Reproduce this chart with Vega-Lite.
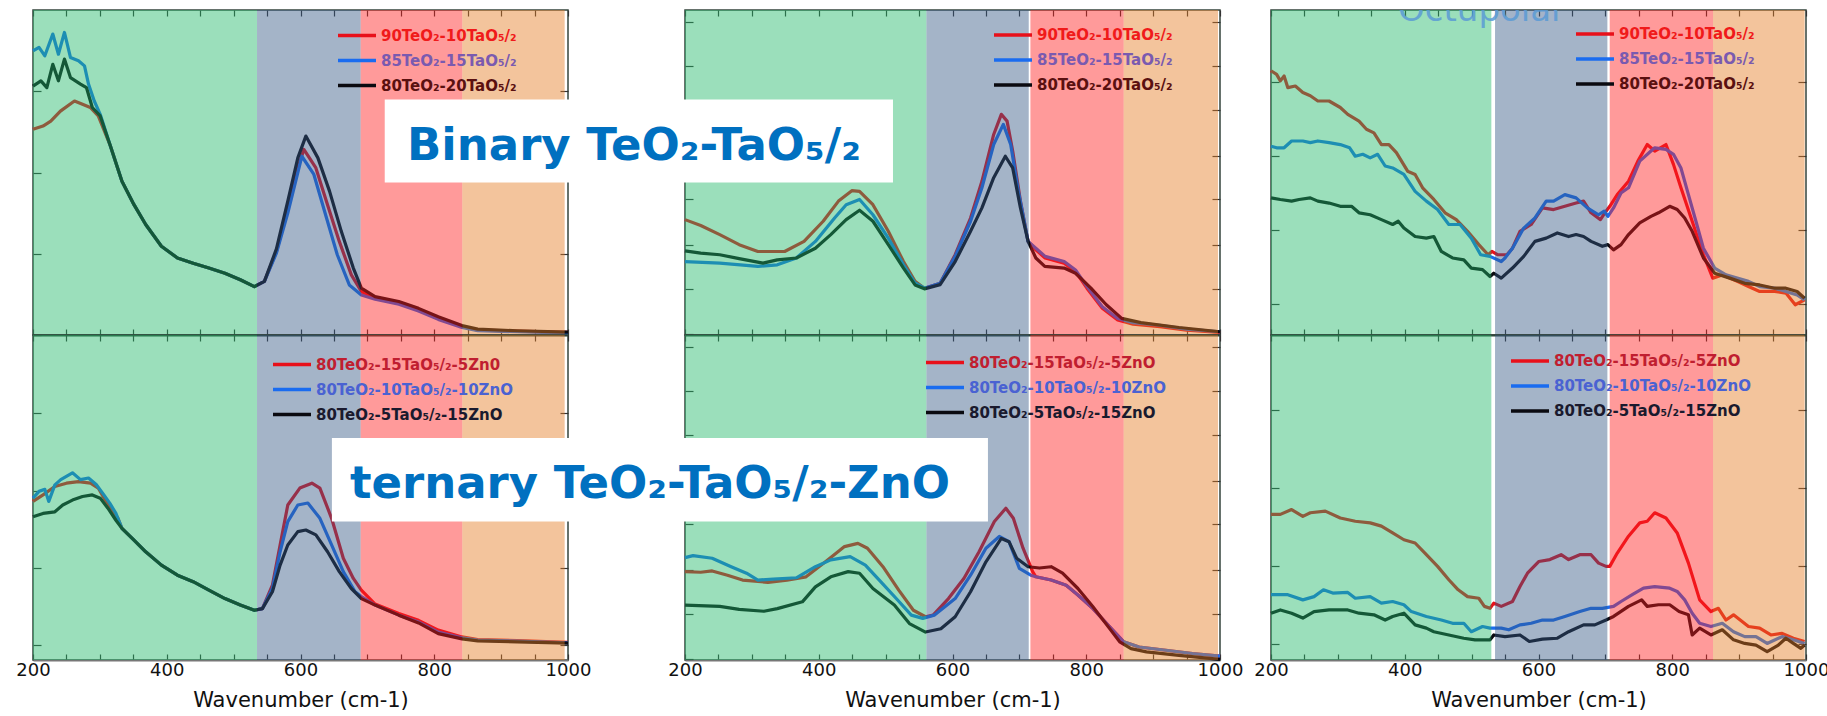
{
"$schema": "https://vega.github.io/schema/vega-lite/v6.json",
"background": "white",
"padding": {"left": 15, "top": 8, "right": 0, "bottom": 2},
"columns": 4,
"spacing": {"row": 0, "column": 51},
"bounds": "flush",
"align": "each",
"resolve": {"scale": {"x": "independent", "y": "independent", "color": "independent", "fill": "independent"}, "axis": {"x": "independent", "y": "independent"}, "legend": {"color": "independent", "fill": "independent"}},
"config": {
  "view": {"stroke": "#34443c", "strokeWidth": 1.5},
  "axis": {"grid": false, "labelFont": "DejaVu Sans", "labelFontSize": 18, "labelColor": "#111", "titleFont": "DejaVu Sans", "titleFontSize": 21, "titleFontWeight": "normal", "titleColor": "#111", "tickColor": "#333", "tickWidth": 1.2, "labelFlush": false, "labelOverlap": false},
  "legend": {"orient": "none", "title": null, "symbolType": "M-2,0H2", "symbolSize": 576, "symbolStrokeWidth": 3.5, "labelFont": "DejaVu Sans", "labelFontWeight": "bold", "labelFontSize": 15, "labelOffset": 15, "clipHeight": 25, "rowPadding": 0, "padding": 0, "labelLimit": 0}
},
"datasets": {
"b1": [{"b":"g","x0":200,"x1":535},{"b":"v","x0":535,"x1":690},{"b":"r","x0":690,"x1":842},{"b":"o","x0":842,"x1":995}],
"b2": [{"b":"g","x0":200,"x1":561},{"b":"v","x0":561,"x1":714},{"b":"r","x0":716.5,"x1":856},{"b":"o","x0":856,"x1":997}],
"b3": [{"b":"g","x0":200,"x1":529.5},{"b":"v","x0":535,"x1":703},{"b":"r","x0":706.5,"x1":861},{"b":"o","x0":861,"x1":998}],
"c1t": [
{"s":"a","x":200,"y":63.3},{"s":"a","x":215,"y":64.3},{"s":"a","x":226.6,"y":65.8},{"s":"a","x":241,"y":68.9},{"s":"a","x":262,"y":72},{"s":"a","x":274,"y":71},{"s":"a","x":285.7,"y":70},{"s":"a","x":297.6,"y":67.4},{"s":"a","x":315,"y":58.6},{"s":"a","x":333,"y":47.3},{"s":"a","x":351,"y":40.1},{"s":"a","x":368.5,"y":34},{"s":"a","x":392,"y":27.3},{"s":"a","x":416,"y":23.7},{"s":"a","x":439.5,"y":22.1},{"s":"a","x":463,"y":20.6},{"s":"a","x":487,"y":19},{"s":"a","x":510,"y":17},{"s":"a","x":531,"y":14.9},{"s":"a","x":546,"y":16.5},{"s":"a","x":564,"y":25.7},{"s":"a","x":581,"y":39},{"s":"a","x":596,"y":51.4},{"s":"a","x":605,"y":57.1},{"s":"a","x":623,"y":51.4},{"s":"a","x":640.5,"y":40},{"s":"a","x":658,"y":28.8},{"s":"a","x":676,"y":18.5},{"s":"a","x":691,"y":13.4},{"s":"a","x":711.5,"y":11.3},{"s":"a","x":747,"y":9.8},{"s":"a","x":776.5,"y":7.7},{"s":"a","x":806,"y":5.1},{"s":"a","x":841.5,"y":2.6},{"s":"a","x":865,"y":1.5},{"s":"a","x":924,"y":1.2},{"s":"a","x":1000,"y":0.8},
{"s":"b","x":200,"y":87.4},{"s":"b","x":209,"y":88.5},{"s":"b","x":217.7,"y":85.9},{"s":"b","x":229.6,"y":92.6},{"s":"b","x":238,"y":86.4},{"s":"b","x":247,"y":93.1},{"s":"b","x":256,"y":85.4},{"s":"b","x":268,"y":84.4},{"s":"b","x":277,"y":82.8},{"s":"b","x":283,"y":77.2},{"s":"b","x":291.6,"y":72},{"s":"b","x":300.5,"y":67.9},{"s":"b","x":315,"y":58.6},{"s":"b","x":333,"y":47.3},{"s":"b","x":351,"y":40.1},{"s":"b","x":368.5,"y":34},{"s":"b","x":392,"y":27.3},{"s":"b","x":416,"y":23.7},{"s":"b","x":439.5,"y":22.1},{"s":"b","x":463,"y":20.6},{"s":"b","x":487,"y":19},{"s":"b","x":510,"y":17},{"s":"b","x":531,"y":14.9},{"s":"b","x":546,"y":16.5},{"s":"b","x":564,"y":25.2},{"s":"b","x":581,"y":37.5},{"s":"b","x":596,"y":50},{"s":"b","x":602,"y":55},{"s":"b","x":620,"y":49.4},{"s":"b","x":637.5,"y":37},{"s":"b","x":655,"y":24.7},{"s":"b","x":673,"y":15.4},{"s":"b","x":691,"y":12.3},{"s":"b","x":711.5,"y":11},{"s":"b","x":747,"y":9.5},{"s":"b","x":776.5,"y":7.4},{"s":"b","x":806,"y":4.8},{"s":"b","x":841.5,"y":2.3},{"s":"b","x":865,"y":1.3},{"s":"b","x":924,"y":1},{"s":"b","x":1000,"y":0.6},
{"s":"c","x":200,"y":76.6},{"s":"c","x":211.8,"y":78.2},{"s":"c","x":220.7,"y":76.1},{"s":"c","x":229.6,"y":83.3},{"s":"c","x":238,"y":78.2},{"s":"c","x":247,"y":84.9},{"s":"c","x":256,"y":79.2},{"s":"c","x":271,"y":77.2},{"s":"c","x":280,"y":76.1},{"s":"c","x":288.7,"y":70},{"s":"c","x":300.5,"y":67.4},{"s":"c","x":315,"y":58.6},{"s":"c","x":333,"y":47.3},{"s":"c","x":351,"y":40.1},{"s":"c","x":368.5,"y":34},{"s":"c","x":392,"y":27.3},{"s":"c","x":416,"y":23.7},{"s":"c","x":439.5,"y":22.1},{"s":"c","x":463,"y":20.6},{"s":"c","x":487,"y":19},{"s":"c","x":510,"y":17},{"s":"c","x":531,"y":14.9},{"s":"c","x":546,"y":16.5},{"s":"c","x":564,"y":26.5},{"s":"c","x":581,"y":41.2},{"s":"c","x":596,"y":54.5},{"s":"c","x":608,"y":61.2},{"s":"c","x":626,"y":54.5},{"s":"c","x":643.5,"y":44.2},{"s":"c","x":661,"y":31.9},{"s":"c","x":679,"y":20.6},{"s":"c","x":691,"y":14.4},{"s":"c","x":711.5,"y":11.8},{"s":"c","x":747,"y":10.3},{"s":"c","x":776.5,"y":8.2},{"s":"c","x":806,"y":5.6},{"s":"c","x":841.5,"y":2.9},{"s":"c","x":865,"y":1.8},{"s":"c","x":924,"y":1.3},{"s":"c","x":1000,"y":0.9}
],
"c1b": [
{"s":"a","x":200,"y":48.8},{"s":"a","x":215,"y":50.8},{"s":"a","x":232.7,"y":53.4},{"s":"a","x":250,"y":54.4},{"s":"a","x":268,"y":54.9},{"s":"a","x":286,"y":54.4},{"s":"a","x":297.6,"y":52.9},{"s":"a","x":309,"y":48.8},{"s":"a","x":327,"y":43.6},{"s":"a","x":333,"y":40.5},{"s":"a","x":351,"y":36.9},{"s":"a","x":368.5,"y":33.3},{"s":"a","x":392,"y":29.2},{"s":"a","x":416,"y":26.1},{"s":"a","x":439.5,"y":24.1},{"s":"a","x":463,"y":21.5},{"s":"a","x":487,"y":18.9},{"s":"a","x":510,"y":16.9},{"s":"a","x":531,"y":15.3},{"s":"a","x":543,"y":15.8},{"s":"a","x":558,"y":23},{"s":"a","x":569.5,"y":35.4},{"s":"a","x":581,"y":47.7},{"s":"a","x":599,"y":52.9},{"s":"a","x":617,"y":54.4},{"s":"a","x":629,"y":52.9},{"s":"a","x":646.5,"y":43.6},{"s":"a","x":664,"y":31.3},{"s":"a","x":679,"y":25.1},{"s":"a","x":691,"y":21.5},{"s":"a","x":711.5,"y":17.2},{"s":"a","x":747,"y":14.3},{"s":"a","x":776.5,"y":12.2},{"s":"a","x":806,"y":9.2},{"s":"a","x":841.5,"y":7.1},{"s":"a","x":865,"y":6.3},{"s":"a","x":924,"y":6},{"s":"a","x":1000,"y":5.4},
{"s":"b","x":200,"y":49.8},{"s":"b","x":209,"y":51.9},{"s":"b","x":217.7,"y":52.5},{"s":"b","x":223.6,"y":48.8},{"s":"b","x":232.7,"y":53.9},{"s":"b","x":241.5,"y":55.5},{"s":"b","x":259,"y":57.6},{"s":"b","x":271,"y":55.5},{"s":"b","x":283,"y":56},{"s":"b","x":294.5,"y":54},{"s":"b","x":306,"y":50.8},{"s":"b","x":315,"y":48.2},{"s":"b","x":324,"y":45.1},{"s":"b","x":333,"y":40.5},{"s":"b","x":351,"y":36.9},{"s":"b","x":368.5,"y":33.3},{"s":"b","x":392,"y":29.2},{"s":"b","x":416,"y":26.1},{"s":"b","x":439.5,"y":24.1},{"s":"b","x":463,"y":21.5},{"s":"b","x":487,"y":18.9},{"s":"b","x":510,"y":16.9},{"s":"b","x":531,"y":15.3},{"s":"b","x":543,"y":15.8},{"s":"b","x":558,"y":22},{"s":"b","x":569.5,"y":33.3},{"s":"b","x":581,"y":42.6},{"s":"b","x":596,"y":47.7},{"s":"b","x":611,"y":48.3},{"s":"b","x":629,"y":43.6},{"s":"b","x":646.5,"y":35.4},{"s":"b","x":664,"y":27.2},{"s":"b","x":681.6,"y":21},{"s":"b","x":691,"y":19.5},{"s":"b","x":711.5,"y":16.9},{"s":"b","x":747,"y":13.8},{"s":"b","x":776.5,"y":11.7},{"s":"b","x":806,"y":8.6},{"s":"b","x":841.5,"y":6.8},{"s":"b","x":865,"y":6.1},{"s":"b","x":924,"y":5.8},{"s":"b","x":1000,"y":5.3},
{"s":"c","x":200,"y":44.1},{"s":"c","x":215,"y":45.1},{"s":"c","x":232.7,"y":45.6},{"s":"c","x":244.5,"y":47.7},{"s":"c","x":259,"y":49.2},{"s":"c","x":274,"y":50.3},{"s":"c","x":288.7,"y":50.8},{"s":"c","x":300.5,"y":49.8},{"s":"c","x":312,"y":46.7},{"s":"c","x":324,"y":43},{"s":"c","x":333,"y":40.5},{"s":"c","x":351,"y":36.9},{"s":"c","x":368.5,"y":33.3},{"s":"c","x":392,"y":29.2},{"s":"c","x":416,"y":26.1},{"s":"c","x":439.5,"y":24.1},{"s":"c","x":463,"y":21.5},{"s":"c","x":487,"y":18.9},{"s":"c","x":510,"y":16.9},{"s":"c","x":531,"y":15.3},{"s":"c","x":543,"y":15.8},{"s":"c","x":558,"y":21},{"s":"c","x":569.5,"y":29.2},{"s":"c","x":581,"y":35.4},{"s":"c","x":596,"y":39.5},{"s":"c","x":608,"y":40},{"s":"c","x":623,"y":38.5},{"s":"c","x":640.5,"y":33.3},{"s":"c","x":658,"y":27.2},{"s":"c","x":676,"y":22},{"s":"c","x":691,"y":18.9},{"s":"c","x":711.5,"y":16.9},{"s":"c","x":747,"y":13.8},{"s":"c","x":776.5,"y":11.4},{"s":"c","x":806,"y":8.1},{"s":"c","x":841.5,"y":6.5},{"s":"c","x":865,"y":5.9},{"s":"c","x":924,"y":5.6},{"s":"c","x":1000,"y":5.2}
],
"c2t": [
{"s":"a","x":200,"y":35.5},{"s":"a","x":223.5,"y":33.7},{"s":"a","x":252,"y":30.9},{"s":"a","x":281,"y":27.8},{"s":"a","x":309,"y":25.7},{"s":"a","x":349,"y":25.7},{"s":"a","x":378,"y":28.8},{"s":"a","x":406.6,"y":35},{"s":"a","x":429.5,"y":41.2},{"s":"a","x":449.5,"y":44.4},{"s":"a","x":461,"y":44.2},{"s":"a","x":481,"y":40.1},{"s":"a","x":504,"y":31.9},{"s":"a","x":526.7,"y":22.6},{"s":"a","x":544,"y":16.5},{"s":"a","x":558,"y":14.4},{"s":"a","x":581.5,"y":15.9},{"s":"a","x":604,"y":24.7},{"s":"a","x":627,"y":36},{"s":"a","x":644,"y":47.3},{"s":"a","x":661.6,"y":61.7},{"s":"a","x":673,"y":67.9},{"s":"a","x":681.6,"y":65.8},{"s":"a","x":690,"y":56.6},{"s":"a","x":701.6,"y":41.2},{"s":"a","x":713,"y":28.8},{"s":"a","x":724.6,"y":26.2},{"s":"a","x":738.5,"y":23.7},{"s":"a","x":767,"y":22.1},{"s":"a","x":784,"y":19.5},{"s":"a","x":801,"y":14.4},{"s":"a","x":824,"y":8.2},{"s":"a","x":847,"y":4.6},{"s":"a","x":870,"y":3.3},{"s":"a","x":910,"y":2.6},{"s":"a","x":950,"y":1.5},{"s":"a","x":1000,"y":0.8},
{"s":"b","x":200,"y":22.6},{"s":"b","x":252,"y":22.1},{"s":"b","x":309,"y":21.1},{"s":"b","x":338,"y":21.6},{"s":"b","x":366.5,"y":23.7},{"s":"b","x":395,"y":28.8},{"s":"b","x":423.7,"y":36},{"s":"b","x":441,"y":40.1},{"s":"b","x":461,"y":41.7},{"s":"b","x":481,"y":37},{"s":"b","x":504,"y":29.8},{"s":"b","x":526.7,"y":21.6},{"s":"b","x":544,"y":16},{"s":"b","x":558,"y":14.4},{"s":"b","x":581.5,"y":15.9},{"s":"b","x":604,"y":24.2},{"s":"b","x":627,"y":35},{"s":"b","x":644,"y":45.3},{"s":"b","x":661.6,"y":58.6},{"s":"b","x":676,"y":64.8},{"s":"b","x":687,"y":58.6},{"s":"b","x":698.5,"y":44.2},{"s":"b","x":713,"y":28.8},{"s":"b","x":724.6,"y":26.7},{"s":"b","x":738.5,"y":24.2},{"s":"b","x":767,"y":22.6},{"s":"b","x":784,"y":20},{"s":"b","x":801,"y":14.9},{"s":"b","x":824,"y":8.7},{"s":"b","x":847,"y":5.1},{"s":"b","x":870,"y":3.8},{"s":"b","x":910,"y":3},{"s":"b","x":950,"y":1.8},{"s":"b","x":1000,"y":1},
{"s":"c","x":200,"y":25.9},{"s":"c","x":223.5,"y":25.2},{"s":"c","x":252,"y":24.7},{"s":"c","x":281,"y":23.5},{"s":"c","x":316.6,"y":22.1},{"s":"c","x":338,"y":23.1},{"s":"c","x":366.5,"y":23.7},{"s":"c","x":395,"y":26.7},{"s":"c","x":418,"y":30.9},{"s":"c","x":441,"y":35.5},{"s":"c","x":461,"y":38.4},{"s":"c","x":481,"y":35},{"s":"c","x":504,"y":27.8},{"s":"c","x":526.7,"y":20.6},{"s":"c","x":544,"y":15.4},{"s":"c","x":558,"y":14.2},{"s":"c","x":581.5,"y":15.5},{"s":"c","x":604,"y":22.6},{"s":"c","x":627,"y":31.9},{"s":"c","x":644,"y":39.1},{"s":"c","x":661.6,"y":48.4},{"s":"c","x":679,"y":55},{"s":"c","x":690,"y":51.4},{"s":"c","x":701.6,"y":39.1},{"s":"c","x":713,"y":28.8},{"s":"c","x":724.6,"y":23.7},{"s":"c","x":738,"y":21.1},{"s":"c","x":767,"y":20.6},{"s":"c","x":784,"y":19},{"s":"c","x":807,"y":14.4},{"s":"c","x":830,"y":9.3},{"s":"c","x":853,"y":5.1},{"s":"c","x":881.7,"y":3.8},{"s":"c","x":938.7,"y":2.3},{"s":"c","x":1000,"y":1}
],
"c2b": [
{"s":"a","x":200,"y":27.2},{"s":"a","x":223.5,"y":27},{"s":"a","x":240.6,"y":27.4},{"s":"a","x":263.5,"y":26.1},{"s":"a","x":286,"y":24.6},{"s":"a","x":324,"y":23.9},{"s":"a","x":352.5,"y":24.6},{"s":"a","x":381,"y":25.6},{"s":"a","x":410,"y":30.2},{"s":"a","x":438.5,"y":34.9},{"s":"a","x":458.5,"y":35.9},{"s":"a","x":472.8,"y":34.4},{"s":"a","x":496,"y":28.7},{"s":"a","x":519.6,"y":21.5},{"s":"a","x":541.5,"y":15.3},{"s":"a","x":559.6,"y":13.3},{"s":"a","x":571,"y":13.8},{"s":"a","x":594,"y":18.9},{"s":"a","x":617,"y":25.1},{"s":"a","x":639.7,"y":33.3},{"s":"a","x":662.6,"y":42.6},{"s":"a","x":679.8,"y":46.7},{"s":"a","x":691,"y":43.6},{"s":"a","x":705.5,"y":34.4},{"s":"a","x":719.8,"y":27.2},{"s":"a","x":724.6,"y":25.6},{"s":"a","x":747.5,"y":24.6},{"s":"a","x":770,"y":23},{"s":"a","x":787.5,"y":20},{"s":"a","x":810,"y":15.8},{"s":"a","x":833,"y":10.7},{"s":"a","x":856,"y":5.6},{"s":"a","x":879,"y":4},{"s":"a","x":919,"y":3},{"s":"a","x":959,"y":2},{"s":"a","x":1000,"y":1.2},
{"s":"b","x":200,"y":31.5},{"s":"b","x":212,"y":32.1},{"s":"b","x":240.6,"y":31.3},{"s":"b","x":269,"y":28.7},{"s":"b","x":292,"y":26.7},{"s":"b","x":309,"y":24.6},{"s":"b","x":332,"y":24.9},{"s":"b","x":366.5,"y":25.3},{"s":"b","x":395,"y":28.7},{"s":"b","x":418,"y":30.8},{"s":"b","x":447,"y":31.8},{"s":"b","x":469.7,"y":29.2},{"s":"b","x":492.6,"y":24.1},{"s":"b","x":515.5,"y":19},{"s":"b","x":538.4,"y":13.8},{"s":"b","x":555.5,"y":12.8},{"s":"b","x":572.7,"y":13.8},{"s":"b","x":604,"y":18.9},{"s":"b","x":627,"y":26.1},{"s":"b","x":650,"y":34.4},{"s":"b","x":670,"y":38},{"s":"b","x":684.5,"y":36.4},{"s":"b","x":700,"y":28.2},{"s":"b","x":717,"y":26.1},{"s":"b","x":724.6,"y":25.6},{"s":"b","x":747.5,"y":24.6},{"s":"b","x":770,"y":23},{"s":"b","x":787.5,"y":20},{"s":"b","x":810,"y":15.8},{"s":"b","x":833,"y":10.7},{"s":"b","x":856,"y":5.6},{"s":"b","x":879,"y":4},{"s":"b","x":919,"y":3},{"s":"b","x":959,"y":2},{"s":"b","x":1000,"y":1.2},
{"s":"c","x":200,"y":16.9},{"s":"c","x":252,"y":16.5},{"s":"c","x":281,"y":15.6},{"s":"c","x":318,"y":15},{"s":"c","x":338,"y":15.8},{"s":"c","x":375.5,"y":17.9},{"s":"c","x":395,"y":22.5},{"s":"c","x":418,"y":25.6},{"s":"c","x":444,"y":27.2},{"s":"c","x":461,"y":26.7},{"s":"c","x":481,"y":22},{"s":"c","x":513,"y":16.9},{"s":"c","x":535.6,"y":11.2},{"s":"c","x":559.6,"y":8.6},{"s":"c","x":582.6,"y":9.6},{"s":"c","x":604,"y":13.3},{"s":"c","x":627,"y":21},{"s":"c","x":650,"y":30.2},{"s":"c","x":673,"y":37.4},{"s":"c","x":684.5,"y":36.4},{"s":"c","x":696,"y":31.3},{"s":"c","x":713,"y":28.7},{"s":"c","x":730,"y":28.3},{"s":"c","x":747.5,"y":28.7},{"s":"c","x":764.6,"y":26.7},{"s":"c","x":787.5,"y":22},{"s":"c","x":810,"y":16.4},{"s":"c","x":833,"y":10.2},{"s":"c","x":850,"y":5.6},{"s":"c","x":867,"y":3.5},{"s":"c","x":890,"y":2.5},{"s":"c","x":938.7,"y":1.4},{"s":"c","x":1000,"y":0.2}
],
"c3t": [
{"s":"a","x":200,"y":81.3},{"s":"a","x":208.4,"y":80.2},{"s":"a","x":214,"y":78.2},{"s":"a","x":219.6,"y":79.7},{"s":"a","x":225.2,"y":76.1},{"s":"a","x":236.4,"y":76.6},{"s":"a","x":247.6,"y":74.6},{"s":"a","x":258.8,"y":73.6},{"s":"a","x":270,"y":72},{"s":"a","x":286.8,"y":72},{"s":"a","x":295.2,"y":71},{"s":"a","x":303.6,"y":70},{"s":"a","x":314.8,"y":67.9},{"s":"a","x":331.6,"y":65.8},{"s":"a","x":342.7,"y":63.3},{"s":"a","x":353.9,"y":62.2},{"s":"a","x":365.1,"y":58.6},{"s":"a","x":376.3,"y":58.6},{"s":"a","x":387.5,"y":56.1},{"s":"a","x":404.3,"y":50.4},{"s":"a","x":415.5,"y":49.4},{"s":"a","x":426.7,"y":45.3},{"s":"a","x":443.5,"y":41.7},{"s":"a","x":460.3,"y":37.6},{"s":"a","x":477.1,"y":35.5},{"s":"a","x":493.9,"y":31.9},{"s":"a","x":510.7,"y":27.8},{"s":"a","x":524.7,"y":24.7},{"s":"a","x":530.3,"y":25.7},{"s":"a","x":538.7,"y":24.7},{"s":"a","x":552.7,"y":24.7},{"s":"a","x":561.1,"y":26.7},{"s":"a","x":572.3,"y":31.9},{"s":"a","x":589,"y":34},{"s":"a","x":605.9,"y":39.1},{"s":"a","x":622.6,"y":38.6},{"s":"a","x":639.4,"y":39.6},{"s":"a","x":656.2,"y":40.6},{"s":"a","x":667.4,"y":41.2},{"s":"a","x":678.6,"y":37.6},{"s":"a","x":692.6,"y":35.5},{"s":"a","x":701,"y":38.1},{"s":"a","x":706.6,"y":39.6},{"s":"a","x":717.8,"y":43.2},{"s":"a","x":734.6,"y":47.3},{"s":"a","x":748.6,"y":53.5},{"s":"a","x":762.6,"y":58.6},{"s":"a","x":773.8,"y":56.6},{"s":"a","x":790.6,"y":58.6},{"s":"a","x":801.8,"y":52.5},{"s":"a","x":813,"y":45.3},{"s":"a","x":829.8,"y":35},{"s":"a","x":846.6,"y":24.7},{"s":"a","x":860.6,"y":17.5},{"s":"a","x":874.8,"y":18.5},{"s":"a","x":897.2,"y":16.5},{"s":"a","x":914,"y":14.9},{"s":"a","x":930.7,"y":13.4},{"s":"a","x":953.1,"y":13.4},{"s":"a","x":969.9,"y":12.9},{"s":"a","x":983.9,"y":9.3},{"s":"a","x":997.8,"y":10.8},
{"s":"b","x":200,"y":58.1},{"s":"b","x":208.4,"y":57.6},{"s":"b","x":219.6,"y":57.6},{"s":"b","x":230.8,"y":59.7},{"s":"b","x":247.6,"y":59.7},{"s":"b","x":258.8,"y":59.2},{"s":"b","x":270,"y":59.7},{"s":"b","x":286.8,"y":59.2},{"s":"b","x":303.6,"y":58.6},{"s":"b","x":317.6,"y":57.6},{"s":"b","x":326,"y":55},{"s":"b","x":337.2,"y":55.6},{"s":"b","x":348.3,"y":54.5},{"s":"b","x":359.5,"y":55.6},{"s":"b","x":370.7,"y":52},{"s":"b","x":381.9,"y":51.4},{"s":"b","x":398.7,"y":49.4},{"s":"b","x":415.5,"y":44.2},{"s":"b","x":432.3,"y":41.2},{"s":"b","x":449.1,"y":38.6},{"s":"b","x":465.9,"y":34},{"s":"b","x":482.7,"y":34},{"s":"b","x":499.5,"y":29.8},{"s":"b","x":513.5,"y":24.7},{"s":"b","x":527.5,"y":24.2},{"s":"b","x":544.3,"y":22.6},{"s":"b","x":549.9,"y":23.7},{"s":"b","x":561.1,"y":26.7},{"s":"b","x":577.9,"y":32.9},{"s":"b","x":594.7,"y":36},{"s":"b","x":611.5,"y":41.2},{"s":"b","x":622.6,"y":41.2},{"s":"b","x":639.4,"y":43.2},{"s":"b","x":656.2,"y":42.2},{"s":"b","x":673,"y":39.1},{"s":"b","x":689.8,"y":37},{"s":"b","x":698.2,"y":38.1},{"s":"b","x":703.8,"y":36.5},{"s":"b","x":712.2,"y":39.1},{"s":"b","x":723.4,"y":43.7},{"s":"b","x":734.6,"y":45.3},{"s":"b","x":751.4,"y":53.5},{"s":"b","x":768.2,"y":56.6},{"s":"b","x":773.8,"y":57.6},{"s":"b","x":790.6,"y":57.1},{"s":"b","x":801.8,"y":55.6},{"s":"b","x":813,"y":51.4},{"s":"b","x":824.2,"y":43.2},{"s":"b","x":835.4,"y":35},{"s":"b","x":846.6,"y":26.7},{"s":"b","x":863.4,"y":20.6},{"s":"b","x":880.4,"y":18.5},{"s":"b","x":897.2,"y":17.5},{"s":"b","x":914,"y":16.5},{"s":"b","x":930.7,"y":14.9},{"s":"b","x":953.1,"y":14.4},{"s":"b","x":969.9,"y":13.4},{"s":"b","x":986.7,"y":12.3},{"s":"b","x":997.8,"y":10.8},
{"s":"c","x":200,"y":42.2},{"s":"c","x":214,"y":41.7},{"s":"c","x":230.8,"y":41.2},{"s":"c","x":242,"y":41.7},{"s":"c","x":258.8,"y":42.2},{"s":"c","x":270,"y":41.2},{"s":"c","x":286.8,"y":40.6},{"s":"c","x":303.6,"y":39.6},{"s":"c","x":320.4,"y":39.6},{"s":"c","x":331.6,"y":37.6},{"s":"c","x":348.3,"y":37},{"s":"c","x":365.1,"y":35.5},{"s":"c","x":381.9,"y":34},{"s":"c","x":390.3,"y":35},{"s":"c","x":398.7,"y":32.9},{"s":"c","x":415.5,"y":30.3},{"s":"c","x":432.3,"y":29.8},{"s":"c","x":443.5,"y":30.3},{"s":"c","x":454.7,"y":25.7},{"s":"c","x":471.5,"y":23.7},{"s":"c","x":488.3,"y":23.1},{"s":"c","x":499.5,"y":20.6},{"s":"c","x":516.3,"y":20.1},{"s":"c","x":527.5,"y":18},{"s":"c","x":533.1,"y":19},{"s":"c","x":544.3,"y":17.5},{"s":"c","x":561.1,"y":20.6},{"s":"c","x":577.9,"y":24.2},{"s":"c","x":594.7,"y":28.8},{"s":"c","x":611.5,"y":29.8},{"s":"c","x":628.2,"y":31.4},{"s":"c","x":645,"y":30.3},{"s":"c","x":656.2,"y":30.9},{"s":"c","x":667.4,"y":30.3},{"s":"c","x":678.6,"y":28.8},{"s":"c","x":695.4,"y":27.3},{"s":"c","x":703.8,"y":27.8},{"s":"c","x":712.2,"y":26.2},{"s":"c","x":723.4,"y":27.8},{"s":"c","x":734.6,"y":30.9},{"s":"c","x":751.4,"y":34.5},{"s":"c","x":768.2,"y":36.5},{"s":"c","x":779.4,"y":37.6},{"s":"c","x":796.2,"y":39.6},{"s":"c","x":807.4,"y":38.6},{"s":"c","x":818.6,"y":36},{"s":"c","x":829.8,"y":31.9},{"s":"c","x":846.6,"y":23.7},{"s":"c","x":863.4,"y":19},{"s":"c","x":886,"y":17.5},{"s":"c","x":908.4,"y":15.9},{"s":"c","x":930.7,"y":15.4},{"s":"c","x":953.1,"y":14.4},{"s":"c","x":969.9,"y":14.4},{"s":"c","x":986.7,"y":13.4},{"s":"c","x":997.8,"y":11.3}
],
"c3b": [
{"s":"a","x":200,"y":44.8},{"s":"a","x":214,"y":44.8},{"s":"a","x":230.8,"y":46.3},{"s":"a","x":247.6,"y":44.2},{"s":"a","x":258.8,"y":45.3},{"s":"a","x":281.2,"y":45.8},{"s":"a","x":303.6,"y":43.7},{"s":"a","x":326,"y":42.7},{"s":"a","x":348.3,"y":42.2},{"s":"a","x":365.1,"y":41.2},{"s":"a","x":381.9,"y":39.1},{"s":"a","x":398.7,"y":37},{"s":"a","x":415.5,"y":36},{"s":"a","x":432.3,"y":32.4},{"s":"a","x":449.1,"y":28.8},{"s":"a","x":465.9,"y":24.7},{"s":"a","x":479.9,"y":21.6},{"s":"a","x":493.9,"y":19.5},{"s":"a","x":510.7,"y":19},{"s":"a","x":519.1,"y":16.5},{"s":"a","x":527.5,"y":15.9},{"s":"a","x":533.1,"y":17.5},{"s":"a","x":544.3,"y":16.5},{"s":"a","x":561.1,"y":18},{"s":"a","x":572.3,"y":22.6},{"s":"a","x":583.5,"y":26.7},{"s":"a","x":600.3,"y":30.3},{"s":"a","x":617,"y":30.9},{"s":"a","x":633.8,"y":32.4},{"s":"a","x":645,"y":30.9},{"s":"a","x":661.8,"y":32.4},{"s":"a","x":678.6,"y":32.4},{"s":"a","x":689.8,"y":29.8},{"s":"a","x":701,"y":28.8},{"s":"a","x":706.6,"y":28.8},{"s":"a","x":717.8,"y":32.9},{"s":"a","x":734.6,"y":38.1},{"s":"a","x":751.4,"y":42.2},{"s":"a","x":762.6,"y":42.7},{"s":"a","x":773.8,"y":45.3},{"s":"a","x":790.6,"y":43.7},{"s":"a","x":807.4,"y":39.1},{"s":"a","x":824.2,"y":29.8},{"s":"a","x":841,"y":18.5},{"s":"a","x":857.8,"y":14.9},{"s":"a","x":869,"y":15.9},{"s":"a","x":880.4,"y":12.3},{"s":"a","x":891.6,"y":13.9},{"s":"a","x":914,"y":10.3},{"s":"a","x":930.7,"y":9.8},{"s":"a","x":947.5,"y":7.7},{"s":"a","x":964.3,"y":8.2},{"s":"a","x":981.1,"y":6.7},{"s":"a","x":997.8,"y":5.7},
{"s":"b","x":200,"y":20.1},{"s":"b","x":225.2,"y":20.1},{"s":"b","x":247.6,"y":18.5},{"s":"b","x":264.4,"y":19.5},{"s":"b","x":278.4,"y":21.6},{"s":"b","x":292.4,"y":20.6},{"s":"b","x":314.8,"y":20.8},{"s":"b","x":326,"y":19},{"s":"b","x":348.3,"y":19.5},{"s":"b","x":365.1,"y":17.5},{"s":"b","x":381.9,"y":18},{"s":"b","x":398.7,"y":17},{"s":"b","x":409.9,"y":14.9},{"s":"b","x":432.3,"y":13.4},{"s":"b","x":454.7,"y":12.3},{"s":"b","x":471.5,"y":11.3},{"s":"b","x":488.3,"y":11.3},{"s":"b","x":499.5,"y":8.7},{"s":"b","x":516.3,"y":10.3},{"s":"b","x":527.5,"y":9.8},{"s":"b","x":544.3,"y":9.8},{"s":"b","x":555.5,"y":9.3},{"s":"b","x":572.3,"y":10.8},{"s":"b","x":589,"y":11.3},{"s":"b","x":605.9,"y":12.3},{"s":"b","x":622.6,"y":12.3},{"s":"b","x":639.4,"y":13.4},{"s":"b","x":661.8,"y":14.9},{"s":"b","x":678.6,"y":15.9},{"s":"b","x":695.4,"y":15.9},{"s":"b","x":712.2,"y":16.5},{"s":"b","x":723.4,"y":18},{"s":"b","x":740.2,"y":20.1},{"s":"b","x":757,"y":22.1},{"s":"b","x":773.8,"y":22.6},{"s":"b","x":796.2,"y":22.1},{"s":"b","x":807.4,"y":21.1},{"s":"b","x":818.6,"y":18.5},{"s":"b","x":829.8,"y":14.4},{"s":"b","x":841,"y":11.3},{"s":"b","x":857.8,"y":10.3},{"s":"b","x":874.8,"y":11.3},{"s":"b","x":891.6,"y":8.7},{"s":"b","x":908.4,"y":7.2},{"s":"b","x":925.2,"y":7.2},{"s":"b","x":941.9,"y":5.1},{"s":"b","x":964.3,"y":7.2},{"s":"b","x":981.1,"y":6.2},{"s":"b","x":997.8,"y":5.1},
{"s":"c","x":200,"y":14.4},{"s":"c","x":214,"y":15.4},{"s":"c","x":230.8,"y":14.4},{"s":"c","x":247.6,"y":12.9},{"s":"c","x":264.4,"y":14.9},{"s":"c","x":286.8,"y":15.4},{"s":"c","x":314.8,"y":15.4},{"s":"c","x":331.6,"y":14.4},{"s":"c","x":353.9,"y":13.9},{"s":"c","x":370.7,"y":12.3},{"s":"c","x":381.9,"y":13.4},{"s":"c","x":398.7,"y":14.4},{"s":"c","x":415.5,"y":10.8},{"s":"c","x":432.3,"y":9.8},{"s":"c","x":443.5,"y":8.7},{"s":"c","x":465.9,"y":7.7},{"s":"c","x":488.3,"y":6.7},{"s":"c","x":505.1,"y":6.2},{"s":"c","x":527.5,"y":6.2},{"s":"c","x":533.1,"y":7.7},{"s":"c","x":549.9,"y":7.2},{"s":"c","x":572.3,"y":7.7},{"s":"c","x":586.3,"y":5.7},{"s":"c","x":605.9,"y":6.4},{"s":"c","x":628.2,"y":6.7},{"s":"c","x":645,"y":8.7},{"s":"c","x":667.4,"y":10.8},{"s":"c","x":684.2,"y":10.8},{"s":"c","x":701,"y":12.3},{"s":"c","x":712.2,"y":13.4},{"s":"c","x":734.6,"y":16.5},{"s":"c","x":754.2,"y":18.5},{"s":"c","x":762.6,"y":16.5},{"s":"c","x":779.4,"y":17},{"s":"c","x":796.2,"y":17},{"s":"c","x":810.2,"y":14.9},{"s":"c","x":824.2,"y":13.9},{"s":"c","x":829.8,"y":7.7},{"s":"c","x":841,"y":9.8},{"s":"c","x":857.8,"y":7.7},{"s":"c","x":874.8,"y":9.3},{"s":"c","x":891.6,"y":6.2},{"s":"c","x":908.4,"y":5.1},{"s":"c","x":925.2,"y":4.6},{"s":"c","x":941.9,"y":2.6},{"s":"c","x":958.7,"y":4.6},{"s":"c","x":969.9,"y":6.7},{"s":"c","x":981.1,"y":5.1},{"s":"c","x":992.3,"y":3.6},{"s":"c","x":997.8,"y":4.6}
]
},
"concat": [
{
 "width": 535, "height": 325,
 "layer": [
  {"data": {"name": "c1t"}, "mark": {"type": "line", "strokeWidth": 3.2, "strokeJoin": "round"},
   "encoding": {
    "x": {"field": "x", "type": "quantitative", "scale": {"domain": [200, 1000], "nice": false, "zero": false}, "axis": {"orient": "bottom", "values": [200,250,300,350,400,450,500,550,600,650,700,750,800,850,900,950,1000], "labels": false, "title": null, "tickSize": -6, "domainColor": "#2d4a3a", "domainWidth": 2}},
    "y": {"field": "y", "type": "quantitative", "scale": {"domain": [0, 100], "nice": false, "zero": false}, "axis": {"orient": "left", "values": [0,25,50,75], "labels": false, "title": null, "tickSize": -8, "domain": false}},
    "color": {"field": "s", "type": "nominal", "scale": {"domain": ["a","b","c"], "range": ["#e8101a","#1a6cf0","#0a0a10"]},
      "legend": {"legendX": 305, "legendY": 13, "labelExpr": "datum.label=='a'?'90TeO₂-10TaO₅/₂':datum.label=='b'?'85TeO₂-15TaO₅/₂':'80TeO₂-20TaO₅/₂'", "labelColor": {"expr": "datum.value=='a'?'#f01a1a':datum.value=='b'?'#7a5ab0':'#5a1010'"}}}
   }},
  {"data": {"name": "b1"}, "mark": {"type": "rect", "opacity": 0.45},
   "encoding": {
    "x": {"field": "x0", "type": "quantitative", "scale": {"domain": [200, 1000], "nice": false, "zero": false}, "axis": {"orient": "top", "values": [200,250,300,350,400,450,500,550,600,650,700,750,800,850,900,950,1000], "labels": false, "title": null, "tickSize": -6, "domain": false}},
    "x2": {"field": "x1"},
    "y": {"datum": 0, "type": "quantitative", "scale": {"domain": [0, 100], "nice": false, "zero": false}, "axis": {"orient": "right", "values": [0,25,50,75], "labels": false, "title": null, "tickSize": -8, "domain": false}},
    "y2": {"datum": 100},
    "fill": {"field": "b", "type": "nominal", "scale": {"domain": ["g","v","r","o"], "range": ["#21B868","#355985","#FF1F1F","#E57C24"]}, "legend": null}
   }}
 ],
 "resolve": {"axis": {"x": "independent", "y": "independent"}}
},
{"width": 15, "height": 325, "data": {"values": [{}]}, "mark": {"type": "point", "opacity": 0}, "encoding": {}, "view": {"stroke": null}},
{
 "width": 535, "height": 325,
 "layer": [
  {"data": {"name": "c2t"}, "mark": {"type": "line", "strokeWidth": 3.2, "strokeJoin": "round"},
   "encoding": {
    "x": {"field": "x", "type": "quantitative", "scale": {"domain": [200, 1000], "nice": false, "zero": false}, "axis": {"orient": "bottom", "values": [200,250,300,350,400,450,500,550,600,650,700,750,800,850,900,950,1000], "labels": false, "title": null, "tickSize": -6, "domainColor": "#2d4a3a", "domainWidth": 2}},
    "y": {"field": "y", "type": "quantitative", "scale": {"domain": [0, 100], "nice": false, "zero": false}, "axis": {"orient": "left", "values": [0.3,14.2,27.8,41.7,55.2,69.1,82.7,96.4], "labels": false, "title": null, "tickSize": -8, "domain": false}},
    "color": {"field": "s", "type": "nominal", "scale": {"domain": ["a","b","c"], "range": ["#e8101a","#1a6cf0","#0a0a10"]},
      "legend": {"legendX": 309, "legendY": 12.5, "labelExpr": "datum.label=='a'?'90TeO₂-10TaO₅/₂':datum.label=='b'?'85TeO₂-15TaO₅/₂':'80TeO₂-20TaO₅/₂'", "labelColor": {"expr": "datum.value=='a'?'#f01a1a':datum.value=='b'?'#7a5ab0':'#5a1010'"}}}
   }},
  {"data": {"name": "b2"}, "mark": {"type": "rect", "opacity": 0.45},
   "encoding": {
    "x": {"field": "x0", "type": "quantitative", "scale": {"domain": [200, 1000], "nice": false, "zero": false}, "axis": {"orient": "top", "values": [200,250,300,350,400,450,500,550,600,650,700,750,800,850,900,950,1000], "labels": false, "title": null, "tickSize": -6, "domain": false}},
    "x2": {"field": "x1"},
    "y": {"datum": 0, "type": "quantitative", "scale": {"domain": [0, 100], "nice": false, "zero": false}, "axis": {"orient": "right", "values": [0.3,14.2,27.8,41.7,55.2,69.1,82.7,96.4], "labels": false, "title": null, "tickSize": -8, "domain": false}},
    "y2": {"datum": 100},
    "fill": {"field": "b", "type": "nominal", "scale": {"domain": ["g","v","r","o"], "range": ["#21B868","#355985","#FF1F1F","#E57C24"]}, "legend": null}
   }},
  {"data": {"values": [{}]}, "mark": {"type": "rect", "fill": "white"},
   "encoding": {
    "x": {"datum": -249, "type": "quantitative", "scale": {"domain": [200, 1000], "nice": false, "zero": false}, "axis": null},
    "x2": {"datum": 511},
    "y": {"datum": 72.5, "type": "quantitative", "scale": {"domain": [0, 100], "nice": false, "zero": false}, "axis": null},
    "y2": {"datum": 46.9}
   }},
  {"data": {"values": [{}]}, "mark": {"type": "text", "text": "Binary TeO₂-TaO₅/₂", "align": "left", "baseline": "alphabetic", "font": "DejaVu Sans", "fontWeight": "bold", "fontSize": 45, "color": "#0070C0"},
   "encoding": {
    "x": {"datum": -215.7, "type": "quantitative", "scale": {"domain": [200, 1000], "nice": false, "zero": false}, "axis": null},
    "y": {"datum": 54, "type": "quantitative", "scale": {"domain": [0, 100], "nice": false, "zero": false}, "axis": null}
   }}
 ],
 "resolve": {"axis": {"x": "independent", "y": "independent"}}
},
{
 "width": 535, "height": 325,
 "layer": [
  {"data": {"name": "c3t"}, "mark": {"type": "line", "strokeWidth": 3.2, "strokeJoin": "round"},
   "encoding": {
    "x": {"field": "x", "type": "quantitative", "scale": {"domain": [200, 1000], "nice": false, "zero": false}, "axis": {"orient": "bottom", "values": [200,250,300,350,400,450,500,550,600,650,700,750,800,850,900,950,1000], "labels": false, "title": null, "tickSize": -6, "domainColor": "#2d4a3a", "domainWidth": 2}},
    "y": {"field": "y", "type": "quantitative", "scale": {"domain": [0, 100], "nice": false, "zero": false}, "axis": {"orient": "left", "values": [9.6,32.4,55.2,77.8], "labels": false, "title": null, "tickSize": -8, "domain": false}},
    "color": {"field": "s", "type": "nominal", "scale": {"domain": ["a","b","c"], "range": ["#e8101a","#1a6cf0","#0a0a10"]},
      "legend": {"legendX": 305, "legendY": 11.5, "labelExpr": "datum.label=='a'?'90TeO₂-10TaO₅/₂':datum.label=='b'?'85TeO₂-15TaO₅/₂':'80TeO₂-20TaO₅/₂'", "labelColor": {"expr": "datum.value=='a'?'#f01a1a':datum.value=='b'?'#7a5ab0':'#5a1010'"}}}
   }},
  {"data": {"name": "b3"}, "mark": {"type": "rect", "opacity": 0.45},
   "encoding": {
    "x": {"field": "x0", "type": "quantitative", "scale": {"domain": [200, 1000], "nice": false, "zero": false}, "axis": {"orient": "top", "values": [200,250,300,350,400,450,500,550,600,650,700,750,800,850,900,950,1000], "labels": false, "title": null, "tickSize": -6, "domain": false}},
    "x2": {"field": "x1"},
    "y": {"datum": 0, "type": "quantitative", "scale": {"domain": [0, 100], "nice": false, "zero": false}, "axis": {"orient": "right", "values": [9.6,32.4,55.2,77.8], "labels": false, "title": null, "tickSize": -8, "domain": false}},
    "y2": {"datum": 100},
    "fill": {"field": "b", "type": "nominal", "scale": {"domain": ["g","v","r","o"], "range": ["#21B868","#355985","#FF1F1F","#E57C24"]}, "legend": null}
   }},
  {"data": {"values": [{}]}, "mark": {"type": "text", "text": "Octupolar", "align": "left", "baseline": "alphabetic", "font": "DejaVu Sans", "fontSize": 34, "color": "#5B9BD5", "opacity": 0.85, "clip": true},
   "encoding": {
    "x": {"datum": 390, "type": "quantitative", "scale": {"domain": [200, 1000], "nice": false, "zero": false}, "axis": null},
    "y": {"datum": 96.5, "type": "quantitative", "scale": {"domain": [0, 100], "nice": false, "zero": false}, "axis": null}
   }}
 ],
 "resolve": {"axis": {"x": "independent", "y": "independent"}}
},
{
 "width": 535, "height": 325,
 "layer": [
  {"data": {"name": "c1b"}, "mark": {"type": "line", "strokeWidth": 3.2, "strokeJoin": "round"},
   "encoding": {
    "x": {"field": "x", "type": "quantitative", "scale": {"domain": [200, 1000], "nice": false, "zero": false}, "axis": {"orient": "bottom", "values": [200,250,300,350,400,450,500,550,600,650,700,750,800,850,900,950,1000], "format": "d", "labelExpr": "datum.value % 200 == 0 ? datum.label : ''", "title": "Wavenumber (cm-1)", "tickSize": -6, "domainColor": "#777", "domainWidth": 2, "labelPadding": 7.5, "titlePadding": 10}},
    "y": {"field": "y", "type": "quantitative", "scale": {"domain": [0, 100], "nice": false, "zero": false}, "axis": {"orient": "left", "values": [4.6,28.4,52,75.9], "labels": false, "title": null, "tickSize": -8, "domain": false}},
    "color": {"field": "s", "type": "nominal", "scale": {"domain": ["a","b","c"], "range": ["#e8101a","#1a6cf0","#0a0a10"]},
      "legend": {"legendX": 240, "legendY": 17, "labelExpr": "datum.label=='a'?'80TeO₂-15TaO₅/₂-5Zn0':datum.label=='b'?'80TeO₂-10TaO₅/₂-10ZnO':'80TeO₂-5TaO₅/₂-15ZnO'", "labelColor": {"expr": "datum.value=='a'?'#c01e30':datum.value=='b'?'#4a62d2':'#1a1a2e'"}}}
   }},
  {"data": {"name": "b1"}, "mark": {"type": "rect", "opacity": 0.45},
   "encoding": {
    "x": {"field": "x0", "type": "quantitative", "scale": {"domain": [200, 1000], "nice": false, "zero": false}, "axis": {"orient": "top", "values": [200,250,300,350,400,450,500,550,600,650,700,750,800,850,900,950,1000], "labels": false, "title": null, "tickSize": -6, "domain": false}},
    "x2": {"field": "x1"},
    "y": {"datum": 0, "type": "quantitative", "scale": {"domain": [0, 100], "nice": false, "zero": false}, "axis": {"orient": "right", "values": [4.6,28.4,52,75.9], "labels": false, "title": null, "tickSize": -8, "domain": false}},
    "y2": {"datum": 100},
    "fill": {"field": "b", "type": "nominal", "scale": {"domain": ["g","v","r","o"], "range": ["#21B868","#355985","#FF1F1F","#E57C24"]}, "legend": null}
   }}
 ],
 "resolve": {"axis": {"x": "independent", "y": "independent"}}
},
{"width": 15, "height": 325, "data": {"values": [{}]}, "mark": {"type": "point", "opacity": 0}, "encoding": {}, "view": {"stroke": null}},
{
 "width": 535, "height": 325,
 "layer": [
  {"data": {"name": "c2b"}, "mark": {"type": "line", "strokeWidth": 3.2, "strokeJoin": "round"},
   "encoding": {
    "x": {"field": "x", "type": "quantitative", "scale": {"domain": [200, 1000], "nice": false, "zero": false}, "axis": {"orient": "bottom", "values": [200,250,300,350,400,450,500,550,600,650,700,750,800,850,900,950,1000], "format": "d", "labelExpr": "datum.value % 200 == 0 ? datum.label : ''", "title": "Wavenumber (cm-1)", "tickSize": -6, "domainColor": "#777", "domainWidth": 2, "labelPadding": 7.5, "titlePadding": 10}},
    "y": {"field": "y", "type": "quantitative", "scale": {"domain": [0, 100], "nice": false, "zero": false}, "axis": {"orient": "left", "values": [0.3,14.2,27.8,41.7,55.2,69.1,82.7,96.4], "labels": false, "title": null, "tickSize": -8, "domain": false}},
    "color": {"field": "s", "type": "nominal", "scale": {"domain": ["a","b","c"], "range": ["#e8101a","#1a6cf0","#0a0a10"]},
      "legend": {"legendX": 241, "legendY": 15, "labelExpr": "datum.label=='a'?'80TeO₂-15TaO₅/₂-5ZnO':datum.label=='b'?'80TeO₂-10TaO₅/₂-10ZnO':'80TeO₂-5TaO₅/₂-15ZnO'", "labelColor": {"expr": "datum.value=='a'?'#c01e30':datum.value=='b'?'#4a62d2':'#1a1a2e'"}}}
   }},
  {"data": {"name": "b2"}, "mark": {"type": "rect", "opacity": 0.45},
   "encoding": {
    "x": {"field": "x0", "type": "quantitative", "scale": {"domain": [200, 1000], "nice": false, "zero": false}, "axis": {"orient": "top", "values": [200,250,300,350,400,450,500,550,600,650,700,750,800,850,900,950,1000], "labels": false, "title": null, "tickSize": -6, "domain": false}},
    "x2": {"field": "x1"},
    "y": {"datum": 0, "type": "quantitative", "scale": {"domain": [0, 100], "nice": false, "zero": false}, "axis": {"orient": "right", "values": [0.3,14.2,27.8,41.7,55.2,69.1,82.7,96.4], "labels": false, "title": null, "tickSize": -8, "domain": false}},
    "y2": {"datum": 100},
    "fill": {"field": "b", "type": "nominal", "scale": {"domain": ["g","v","r","o"], "range": ["#21B868","#355985","#FF1F1F","#E57C24"]}, "legend": null}
   }},
  {"data": {"values": [{}]}, "mark": {"type": "rect", "fill": "white"},
   "encoding": {
    "x": {"datum": -328, "type": "quantitative", "scale": {"domain": [200, 1000], "nice": false, "zero": false}, "axis": null},
    "x2": {"datum": 653},
    "y": {"datum": 68.3, "type": "quantitative", "scale": {"domain": [0, 100], "nice": false, "zero": false}, "axis": null},
    "y2": {"datum": 42.6}
   }},
  {"data": {"values": [{}]}, "mark": {"type": "text", "text": "ternary TeO₂-TaO₅/₂-ZnO", "align": "left", "baseline": "alphabetic", "font": "DejaVu Sans", "fontWeight": "bold", "fontSize": 45, "color": "#0070C0"},
   "encoding": {
    "x": {"datum": -301, "type": "quantitative", "scale": {"domain": [200, 1000], "nice": false, "zero": false}, "axis": null},
    "y": {"datum": 49.8, "type": "quantitative", "scale": {"domain": [0, 100], "nice": false, "zero": false}, "axis": null}
   }}
 ],
 "resolve": {"axis": {"x": "independent", "y": "independent"}}
},
{
 "width": 535, "height": 325,
 "layer": [
  {"data": {"name": "c3b"}, "mark": {"type": "line", "strokeWidth": 3.2, "strokeJoin": "round"},
   "encoding": {
    "x": {"field": "x", "type": "quantitative", "scale": {"domain": [200, 1000], "nice": false, "zero": false}, "axis": {"orient": "bottom", "values": [200,250,300,350,400,450,500,550,600,650,700,750,800,850,900,950,1000], "format": "d", "labelExpr": "datum.value % 200 == 0 ? datum.label : ''", "title": "Wavenumber (cm-1)", "tickSize": -6, "domainColor": "#777", "domainWidth": 2, "labelPadding": 7.5, "titlePadding": 10}},
    "y": {"field": "y", "type": "quantitative", "scale": {"domain": [0, 100], "nice": false, "zero": false}, "axis": {"orient": "left", "values": [5,29,52.9,76.8], "labels": false, "title": null, "tickSize": -8, "domain": false}},
    "color": {"field": "s", "type": "nominal", "scale": {"domain": ["a","b","c"], "range": ["#e8101a","#1a6cf0","#0a0a10"]},
      "legend": {"legendX": 240, "legendY": 13.5, "labelExpr": "datum.label=='a'?'80TeO₂-15TaO₅/₂-5ZnO':datum.label=='b'?'80TeO₂-10TaO₅/₂-10ZnO':'80TeO₂-5TaO₅/₂-15ZnO'", "labelColor": {"expr": "datum.value=='a'?'#c01e30':datum.value=='b'?'#4a62d2':'#1a1a2e'"}}}
   }},
  {"data": {"name": "b3"}, "mark": {"type": "rect", "opacity": 0.45},
   "encoding": {
    "x": {"field": "x0", "type": "quantitative", "scale": {"domain": [200, 1000], "nice": false, "zero": false}, "axis": {"orient": "top", "values": [200,250,300,350,400,450,500,550,600,650,700,750,800,850,900,950,1000], "labels": false, "title": null, "tickSize": -6, "domain": false}},
    "x2": {"field": "x1"},
    "y": {"datum": 0, "type": "quantitative", "scale": {"domain": [0, 100], "nice": false, "zero": false}, "axis": {"orient": "right", "values": [5,29,52.9,76.8], "labels": false, "title": null, "tickSize": -8, "domain": false}},
    "y2": {"datum": 100},
    "fill": {"field": "b", "type": "nominal", "scale": {"domain": ["g","v","r","o"], "range": ["#21B868","#355985","#FF1F1F","#E57C24"]}, "legend": null}
   }}
 ],
 "resolve": {"axis": {"x": "independent", "y": "independent"}}
}
]
}
